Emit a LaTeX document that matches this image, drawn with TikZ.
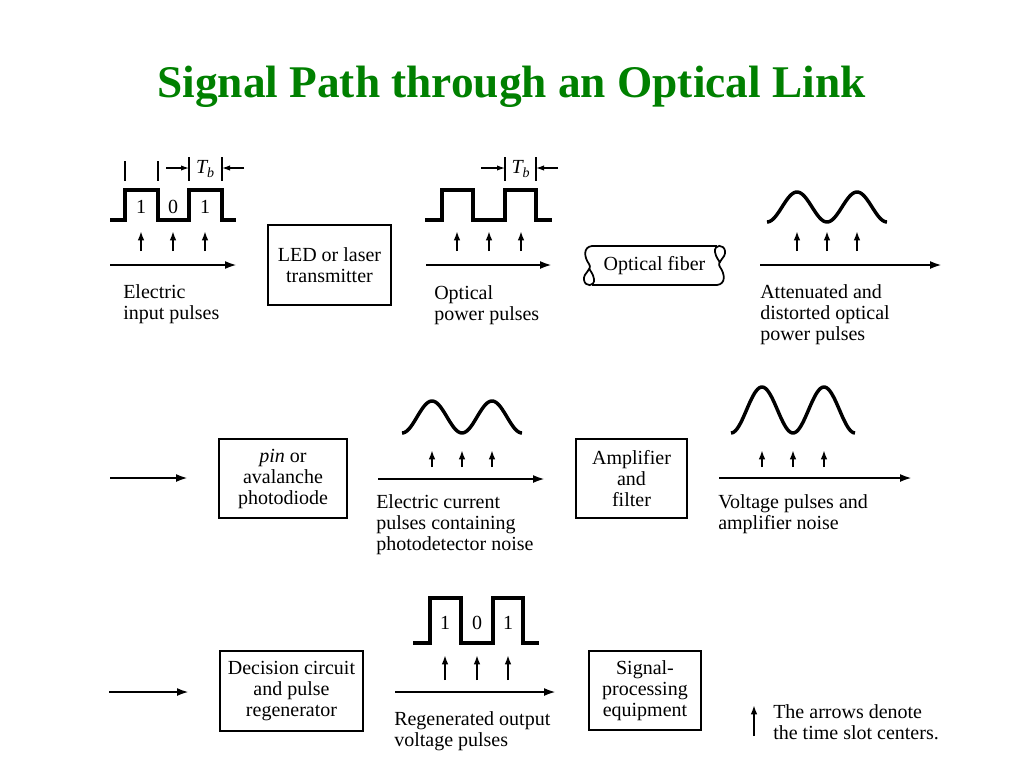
\documentclass[tikz,border=0pt]{standalone}
\usepackage{fontspec}
\setmainfont{Liberation Serif}
\usetikzlibrary{arrows.meta}
\definecolor{titlegreen}{RGB}{0,128,0}

\begin{document}
\begin{tikzpicture}[x=0.75pt,y=-0.75pt,
    every node/.style={font=\fontsize{15pt}{15.75pt}\selectfont,inner sep=0pt},
    block/.style={draw,line width=1.5pt,align=center},
    caption/.style={anchor=north west,align=left},
    pulse/.style={line width=2.5pt,line join=miter},
    axis/.style={line width=1.7pt,-{Latex[length=9pt,width=6pt]}},
    slot/.style={line width=1.5pt,-{Latex[length=7pt,width=5pt]}},
    tick/.style={line width=0.9pt},
    period/.style={line width=0.9pt,-{Latex[length=6pt,width=4pt]}}]

        \useasboundingbox (0,0) rectangle (1024,768);

        % title
        \node[font=\fontsize{34pt}{40pt}\selectfont\bfseries,text=titlegreen,anchor=base]
            (title) at (511.5,97) {Signal Path through an Optical Link};

        % the blocks
        \node[block,minimum width=92pt,minimum height=60pt] (led) at (329.5,265) {LED or laser\\transmitter};
        \node[block,minimum width=96pt,minimum height=59pt] (pin) at (283,478.5) {\textit{pin} or\\avalanche\\photodiode};
        \node[block,minimum width=83pt,minimum height=59pt] (amp) at (631.5,478.5) {Amplifier\\and\\filter};
        \node[block,minimum width=107pt,minimum height=60pt] (dec) at (291.5,691) {Decision circuit\\and pulse\\regenerator};
        \node[block,minimum width=84pt,minimum height=59pt] (sig) at (645,690.5) {Signal-\\processing\\equipment};

        % the optical fiber
        \node (fiber) at (654.5,265.5) {Optical fiber};
        \draw[line width=1.3pt] (592,246) -- (717,246) (592,285) -- (717,285);
        \foreach \r in {0,180}
                \draw[line width=1.3pt,rotate around={\r:(fiber.center)}]
                    (592,246) .. controls (583,247) and (584,257) .. (589,264)
                    .. controls (593,270) and (583,272) .. (584,280)
                    .. controls (585,287) and (595,287) .. (594,279)
                    .. controls (593,273) and (590,271) .. (589,268);

        % the time axes
        \coordinate (ax1a) at (110,265);  \coordinate (ax1b) at (237,265);
        \coordinate (ax2a) at (426,265);  \coordinate (ax2b) at (552,265);
        \coordinate (ax3a) at (760,265);  \coordinate (ax3b) at (942,265);
        \coordinate (ax4a) at (110,478);  \coordinate (ax4b) at (188,478);
        \coordinate (ax5a) at (378,479);  \coordinate (ax5b) at (545,479);
        \coordinate (ax6a) at (719,478);  \coordinate (ax6b) at (912,478);
        \coordinate (ax7a) at (109,692);  \coordinate (ax7b) at (189,692);
        \coordinate (ax8a) at (395,692);  \coordinate (ax8b) at (556,692);
        \foreach \n in {1,...,8}
                \draw[axis] (ax\n a) -- (ax\n b);

        % electric input pulses
        \draw[pulse] (110,220) -- (125,220) -- (125,190) -- (158,190) -- (158,220)
            -- (189,220) -- (189,190) -- (222,190) -- (222,220) -- (236,220);
        \foreach \x in {125,158}
                \draw[tick] (\x,161) -- (\x,181);
        \foreach \x in {189,222}
                \draw[tick] (\x,157) -- (\x,181);
        \draw[period] (166,168) -- (189,168);
        \draw[period] (244,168) -- (222,168);
        \node (tb1) at (205.5,169) {\textit{T\textsubscript{b}}};
        \foreach \x/\bit in {141/1,173/0,205/1}
                \node (inbit\x) at (\x,207) {\bit};

        % optical power pulses
        \draw[pulse] (425,220) -- (442,220) -- (442,190) -- (473,190) -- (473,220)
            -- (505,220) -- (505,190) -- (536,190) -- (536,220) -- (552,220);
        \foreach \x in {505,536}
                \draw[tick] (\x,157) -- (\x,181);
        \draw[period] (481,168) -- (505,168);
        \draw[period] (558,168) -- (536,168);
        \node (tb2) at (521,169) {\textit{T\textsubscript{b}}};

        % attenuated, amplified and current pulses
        \draw[line width=2.6pt] plot[domain=767:887,samples=80] (\x,{207-15*cos(6*(\x-797))});
        \draw[line width=2.6pt] plot[domain=402:522,samples=80] (\x,{417-16*cos(6*(\x-432))});
        \draw[line width=2.6pt] plot[domain=731:855,samples=80] (\x,{410-23*cos(360/62*(\x-762))});

        % regenerated output pulses
        \draw[pulse] (413,643) -- (430,643) -- (430,598) -- (461,598) -- (461,643)
            -- (493,643) -- (493,598) -- (523,598) -- (523,643) -- (539,643);
        \foreach \x/\bit in {445/1,477/0,508/1}
                \node (outbit\x) at (\x,623) {\bit};

        % arrows at the time slot centers
        \foreach \x in {141,173,205,457,489,521,797,827,857}
                \draw[slot] (\x,251) -- (\x,231);
        \foreach \x in {432,462,492,762,793,824}
                \draw[slot] (\x,467) -- (\x,450);
        \foreach \x in {445,477,508}
                \draw[slot] (\x,680) -- (\x,655);

        % captions
        \node[caption] (cap1) at (123,284) {Electric\\input pulses};
        \node[caption] (cap2) at (434,285) {Optical\\power pulses};
        \node[caption] (cap3) at (760,284) {Attenuated and\\distorted optical\\power pulses};
        \node[caption] (cap4) at (376,494) {Electric current\\pulses containing\\photodetector noise};
        \node[caption] (cap5) at (718,494) {Voltage pulses and\\amplifier noise};
        \node[caption] (cap6) at (394,711) {Regenerated output\\voltage pulses};

        % legend
        \draw[slot] (754,736) -- (754,705);
        \node[caption] (legend) at (773,704) {The arrows denote\\the time slot centers.};
\end{tikzpicture}
\end{document}
